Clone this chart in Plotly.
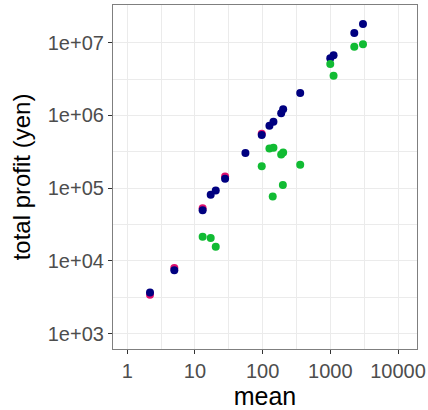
import plotly.graph_objects as go

# navy series
navy_x = [3035, 2258, 1116, 998, 359, 201, 188, 144.5, 126, 97, 55.7, 27.9, 20.3, 17.1, 13.0, 4.96, 2.17]
navy_y = [1.81e7, 1.36e7, 6.7e6, 6.1e6, 2.04e6, 1.22e6, 1.07e6, 8.2e5, 7.2e5, 5.4e5, 3.05e5, 1.35e5, 9.3e4, 8.1e4, 4.98e4, 7.45e3, 3.7e3]

# pink series (mostly hidden under navy)
pink_x = [27.9, 13.0, 4.96, 2.17, 97]
pink_y = [1.45e5, 5.3e4, 8.0e3, 3.44e3, 5.6e5]

# green series
green_x = [3035, 2258, 998, 1116, 359, 201, 188, 144.5, 126, 97, 199, 141, 13.0, 17.1, 20.3]
green_y = [9.5e6, 8.8e6, 5.1e6, 3.5e6, 2.1e5, 3.1e5, 2.9e5, 3.6e5, 3.5e5, 2.0e5, 1.11e5, 7.7e4, 2.16e4, 2.07e4, 1.57e4]

x_ticks = [1, 10, 100, 1000, 10000]
x_labels = ["1", "10", "100", "1000", "10000"]
y_ticks = [1e3, 1e4, 1e5, 1e6, 1e7]
y_labels = ["1e+03", "1e+04", "1e+05", "1e+06", "1e+07"]

fig = go.Figure()
fig.add_trace(go.Scatter(x=pink_x, y=pink_y, mode="markers",
                         marker=dict(color="#e0106e", size=8), showlegend=False))
fig.add_trace(go.Scatter(x=navy_x, y=navy_y, mode="markers",
                         marker=dict(color="#000080", size=8), showlegend=False))
fig.add_trace(go.Scatter(x=green_x, y=green_y, mode="markers",
                         marker=dict(color="#11bb33", size=8), showlegend=False))

grid = "#ebebeb"
fig.update_layout(
    width=428, height=410,
    margin=dict(l=113, r=11, t=5, b=61, autoexpand=False),
    paper_bgcolor="white", plot_bgcolor="white",
    font=dict(family="Liberation Sans, Arial, sans-serif"),
)
fig.update_xaxes(
    type="log", range=[-0.21, 4.28], automargin=False,
    tickvals=x_ticks, ticktext=x_labels,
    tickfont=dict(size=20, color="#4d4d4d"),
    ticks="outside", ticklen=4, tickcolor="#333333", tickwidth=1,
    showgrid=True, gridcolor=grid, gridwidth=1.2,
    minor=dict(tickvals=[10**0.5, 10**1.5, 10**2.5, 10**3.5], showgrid=True,
               gridcolor=grid, gridwidth=0.6, ticks=""),
    showline=True, linecolor="#7f7f7f", linewidth=1.2, mirror=True,
    zeroline=False,
    title=dict(text="mean", font=dict(size=25, color="black"), standoff=4),
)
fig.update_yaxes(
    type="log", range=[2.79, 7.518], automargin=False,
    tickvals=y_ticks, ticktext=y_labels,
    tickfont=dict(size=20, color="#4d4d4d"),
    ticks="outside", ticklen=4, tickcolor="#333333", tickwidth=1,
    showgrid=True, gridcolor=grid, gridwidth=1.2,
    minor=dict(tickvals=[10**3.5, 10**4.5, 10**5.5, 10**6.5], showgrid=True,
               gridcolor=grid, gridwidth=0.6, ticks=""),
    showline=True, linecolor="#7f7f7f", linewidth=1.2, mirror=True,
    zeroline=False,
    title=dict(text="total profit (yen)", font=dict(size=24, color="black"), standoff=10),
)

fig.write_html("out.html", config={"displayModeBar": False},
               post_script="document.body.style.margin='0px';document.body.style.padding='0px';")
